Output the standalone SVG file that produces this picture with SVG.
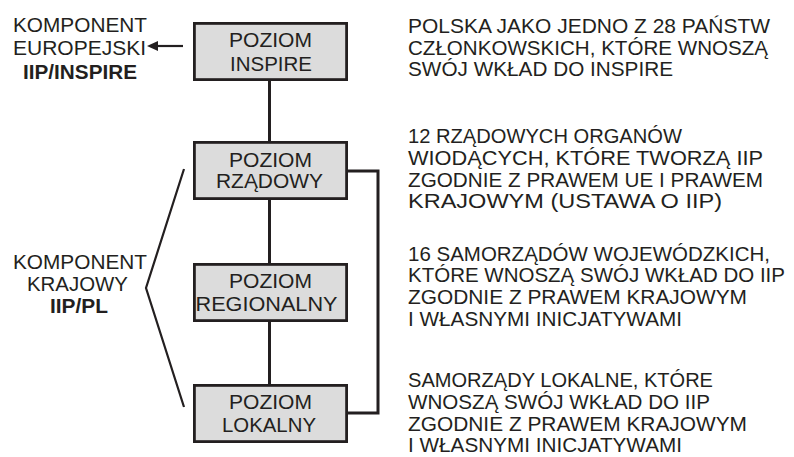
<svg xmlns="http://www.w3.org/2000/svg" width="794" height="457" viewBox="0 0 794 457">
<style>
text{font-family:"Liberation Sans",Arial,sans-serif;font-size:21px;fill:#231f20}
.c{text-anchor:middle}
.b{font-weight:bold}
.box{fill:#dcdcdc;stroke:#231f20;stroke-width:2.8}
.ln{fill:none;stroke:#231f20;stroke-width:3}
</style>
<rect width="794" height="457" fill="#ffffff"/>
<g id="connectors">
<line class="ln" x1="269.5" y1="80" x2="269.5" y2="385"/>
<polyline class="ln" points="348,171 378,171 378,413 348,413"/>
<polyline class="ln" style="stroke-width:2.2" points="184,169 146,288 184,407"/>
<line x1="183" y1="46" x2="157" y2="46" stroke="#231f20" stroke-width="2.2"/>
<path d="M147,46 L158,41 L158,51 Z" fill="#231f20"/>
</g>
<g id="inspire">
<rect class="box" x="194.4" y="23.4" width="152.2" height="56.2"/>
<text class="c" x="270.5" y="47" textLength="83" lengthAdjust="spacingAndGlyphs">POZIOM</text>
<text class="c" x="271" y="71" textLength="82" lengthAdjust="spacingAndGlyphs">INSPIRE</text>
</g>
<g id="rzadowy">
<rect class="box" x="194.4" y="142.4" width="152.2" height="56.2"/>
<text class="c" x="270.5" y="167" textLength="83" lengthAdjust="spacingAndGlyphs">POZIOM</text>
<text class="c" x="269.5" y="188" textLength="107" lengthAdjust="spacingAndGlyphs">RZĄDOWY</text>
</g>
<g id="regionalny">
<rect class="box" x="194.4" y="264.4" width="152.2" height="56.2"/>
<text class="c" x="270.5" y="288" textLength="83" lengthAdjust="spacingAndGlyphs">POZIOM</text>
<text class="c" x="266.5" y="311" textLength="142" lengthAdjust="spacingAndGlyphs">REGIONALNY</text>
</g>
<g id="lokalny">
<rect class="box" x="194.4" y="385.4" width="152.2" height="56.2"/>
<text class="c" x="270.5" y="409" textLength="83" lengthAdjust="spacingAndGlyphs">POZIOM</text>
<text class="c" x="269" y="432" textLength="94" lengthAdjust="spacingAndGlyphs">LOKALNY</text>
</g>
<g id="komponent-europejski">
<text x="13" y="32" textLength="134" lengthAdjust="spacingAndGlyphs">KOMPONENT</text>
<text x="13" y="55" textLength="133" lengthAdjust="spacingAndGlyphs">EUROPEJSKI</text>
<text class="b" x="23" y="79" textLength="114" lengthAdjust="spacingAndGlyphs">IIP/INSPIRE</text>
</g>
<g id="komponent-krajowy">
<text x="13" y="269" textLength="134" lengthAdjust="spacingAndGlyphs">KOMPONENT</text>
<text x="27" y="291" textLength="101" lengthAdjust="spacingAndGlyphs">KRAJOWY</text>
<text class="b" x="50" y="313" textLength="58" lengthAdjust="spacingAndGlyphs">IIP/PL</text>
</g>
<g id="descriptions">
<text x="408" y="33" textLength="362" lengthAdjust="spacingAndGlyphs">POLSKA JAKO JEDNO Z 28 PAŃSTW</text>
<text x="408" y="54.5" textLength="360" lengthAdjust="spacingAndGlyphs">CZŁONKOWSKICH, KTÓRE WNOSZĄ</text>
<text x="408" y="76" textLength="265" lengthAdjust="spacingAndGlyphs">SWÓJ WKŁAD DO INSPIRE</text>
<text x="408" y="143" textLength="274" lengthAdjust="spacingAndGlyphs">12 RZĄDOWYCH ORGANÓW</text>
<text x="408" y="165" textLength="355" lengthAdjust="spacingAndGlyphs">WIODĄCYCH, KTÓRE TWORZĄ IIP</text>
<text x="408" y="187" textLength="355" lengthAdjust="spacingAndGlyphs">ZGODNIE Z PRAWEM UE I PRAWEM</text>
<text x="408" y="208" textLength="314" lengthAdjust="spacingAndGlyphs">KRAJOWYM (USTAWA O IIP)</text>
<text x="408" y="261" textLength="362" lengthAdjust="spacingAndGlyphs">16 SAMORZĄDÓW WOJEWÓDZKICH,</text>
<text x="408" y="282" textLength="377" lengthAdjust="spacingAndGlyphs">KTÓRE WNOSZĄ SWÓJ WKŁAD DO IIP</text>
<text x="408" y="304" textLength="339" lengthAdjust="spacingAndGlyphs">ZGODNIE Z PRAWEM KRAJOWYM</text>
<text x="408" y="326" textLength="274" lengthAdjust="spacingAndGlyphs">I WŁASNYMI INICJATYWAMI</text>
<text x="408" y="387" textLength="305" lengthAdjust="spacingAndGlyphs">SAMORZĄDY LOKALNE, KTÓRE</text>
<text x="408" y="409" textLength="302" lengthAdjust="spacingAndGlyphs">WNOSZĄ SWÓJ WKŁAD DO IIP</text>
<text x="408" y="431" textLength="339" lengthAdjust="spacingAndGlyphs">ZGODNIE Z PRAWEM KRAJOWYM</text>
<text x="408" y="452" textLength="274" lengthAdjust="spacingAndGlyphs">I WŁASNYMI INICJATYWAMI</text>
</g>
</svg>
